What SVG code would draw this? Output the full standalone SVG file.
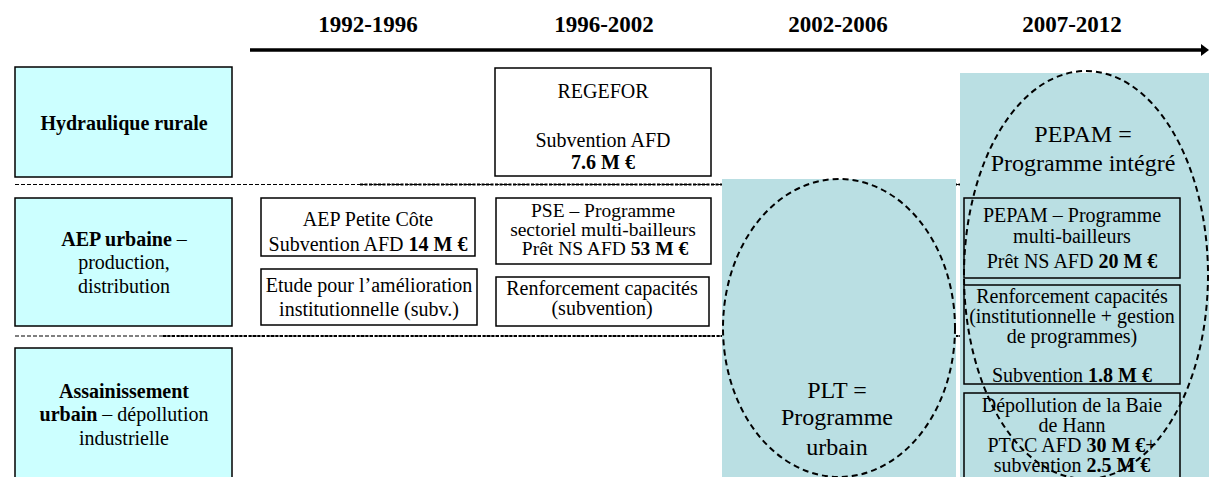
<svg xmlns="http://www.w3.org/2000/svg" width="1209" height="477" viewBox="0 0 1209 477">
<style>
text{font-family:"Liberation Serif","Times New Roman",serif;fill:#000;text-anchor:middle}
.yr{font-size:23px;font-weight:bold}
.t{font-size:20px}
.s{font-size:19.5px}
.b{font-weight:bold}
.big{font-size:24px}
.cat{fill:#CCFFFF;stroke:#000;stroke-width:1.5}
.box{fill:none;stroke:#000;stroke-width:1.5}
.wbox{fill:#fff;stroke:#000;stroke-width:1.5}
.shade{fill:#BADFE3}
.ell{fill:none;stroke:#000;stroke-width:2;stroke-dasharray:6 4}
.sep{stroke:#000;stroke-width:1.2;stroke-dasharray:4 2;fill:none}
.sep2{stroke:#000;stroke-width:1.8;stroke-dasharray:3 1.5;fill:none}
</style>
<defs>
<marker id="ah" markerWidth="8" markerHeight="12" refX="2" refY="6" orient="auto" markerUnits="userSpaceOnUse"><path d="M0,0 L8,6 L0,12 z" fill="#000"/></marker>
</defs>
<rect width="1209" height="477" fill="#fff"/>

<g id="years">
<text class="yr" x="368" y="32">1992-1996</text>
<text class="yr" x="604" y="32">1996-2002</text>
<text class="yr" x="838" y="32">2002-2006</text>
<text class="yr" x="1072" y="32">2007-2012</text>
</g>

<g id="connectors">
<line x1="250" y1="50" x2="1203" y2="50" stroke="#000" stroke-width="3.5" marker-end="url(#ah)"/>
<line class="sep" x1="15" y1="184.5" x2="960" y2="184.5"/>
<line class="sep2" x1="360" y1="184.5" x2="960" y2="184.5"/>
<line class="sep" x1="15" y1="336" x2="960" y2="336"/>
<line class="sep2" x1="163" y1="336" x2="960" y2="336"/>
</g>

<g id="hydraulique-rurale">
<rect class="cat" x="15" y="67" width="217" height="110"/>
<text class="t b" x="124" y="130">Hydraulique rurale</text>
</g>
<g id="aep-urbaine">
<rect class="cat" x="15" y="198" width="217" height="128"/>
<text class="t" x="124" y="246"><tspan class="b">AEP urbaine</tspan> –</text>
<text class="t" x="124" y="269">production,</text>
<text class="t" x="124" y="293">distribution</text>
</g>
<g id="assainissement-urbain">
<rect class="cat" x="15" y="348" width="217" height="140"/>
<text class="t b" x="124" y="398">Assainissement</text>
<text class="t" x="124" y="421"><tspan class="b">urbain</tspan> – dépollution</text>
<text class="t" x="124" y="445">industrielle</text>
</g>

<g id="regefor">
<rect class="wbox" x="495" y="68" width="216" height="108"/>
<text class="t" x="603" y="98">REGEFOR</text>
<text class="t" x="603" y="147">Subvention AFD</text>
<text class="t b" x="603" y="169">7.6 M €</text>
</g>
<g id="aep-petite-cote">
<rect class="wbox" x="261" y="198" width="214" height="58"/>
<text class="t" x="368" y="226">AEP Petite Côte</text>
<text class="t" x="368" y="251">Subvention AFD <tspan class="b">14 M €</tspan></text>
</g>
<g id="etude">
<rect class="wbox" x="261" y="269" width="216" height="56"/>
<text class="t" x="369" y="292">Etude pour l’amélioration</text>
<text class="t" x="369" y="316">institutionnelle (subv.)</text>
</g>
<g id="pse">
<rect class="wbox" x="496" y="198" width="215" height="66"/>
<text class="s" x="603" y="217">PSE – Programme</text>
<text class="s" x="603" y="236">sectoriel multi-bailleurs</text>
<text class="s" x="605" y="255">Prêt NS AFD <tspan class="b">53 M €</tspan></text>
</g>
<g id="renforcement-1996">
<rect class="wbox" x="496" y="277" width="213" height="49"/>
<text class="t" x="602" y="295">Renforcement capacités</text>
<text class="t" x="602" y="315">(subvention)</text>
</g>

<g id="plt">
<rect class="shade" x="722" y="179" width="234" height="298"/>
<text class="big" x="837" y="398">PLT =</text>
<text class="big" x="837" y="425">Programme</text>
<text class="big" x="837" y="455">urbain</text>
<ellipse class="ell" cx="839" cy="328" rx="116" ry="149"/>
</g>

<g id="pepam">
<rect class="shade" x="960" y="73" width="249" height="404"/>
<text class="big" x="1083" y="142">PEPAM =</text>
<text class="big" x="1083" y="171">Programme intégré</text>
<g id="pepam-programme">
<rect class="box" x="964" y="198" width="216" height="80"/>
<text class="t" x="1072" y="222">PEPAM – Programme</text>
<text class="t" x="1072" y="243">multi-bailleurs</text>
<text class="t" x="1072" y="268">Prêt NS AFD <tspan class="b">20 M €</tspan></text>
</g>
<g id="renforcement-2007">
<rect class="box" x="964" y="285" width="216" height="99"/>
<text class="t" x="1072" y="303">Renforcement capacités</text>
<text class="t" x="1072" y="323">(institutionnelle + gestion</text>
<text class="t" x="1072" y="343">de programmes)</text>
<text class="t" x="1072" y="382">Subvention <tspan class="b">1.8 M €</tspan></text>
</g>
<g id="depollution">
<rect class="box" x="964" y="393" width="216" height="100"/>
<text class="t" x="1072" y="412">Dépollution de la Baie</text>
<text class="t" x="1072" y="432">de Hann</text>
<text class="t" x="1072" y="452">PTCC AFD <tspan class="b">30 M €</tspan>+</text>
<text class="t" x="1072" y="472">subvention <tspan class="b">2.5 M €</tspan></text>
</g>
<ellipse class="ell" cx="1086" cy="275" rx="122" ry="204"/>
</g>
</svg>
